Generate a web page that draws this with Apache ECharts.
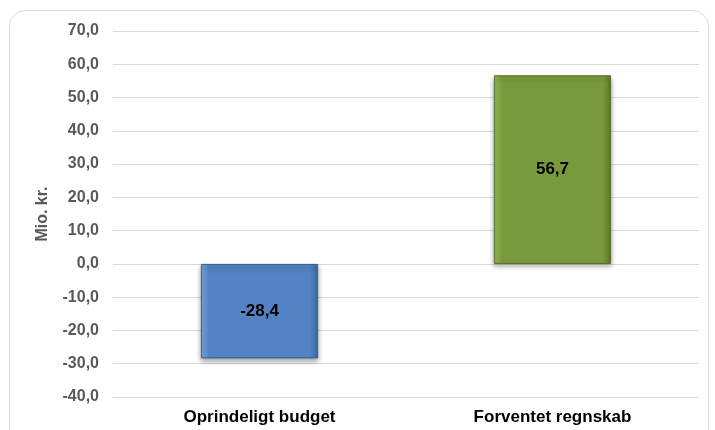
<!DOCTYPE html>
<html><head><meta charset="utf-8">
<script src="https://cdn.jsdelivr.net/npm/echarts@6/dist/echarts.min.js"></script>
<style>html,body{margin:0;padding:0;background:#fff}#c{width:715px;height:430px}</style>
</head><body><div id="c"></div>
<script>
const categories = ['Oprindeligt budget', 'Forventet regnskab'];
const values = [-28.4, 56.7];
const barColors = [['#7ba6dd', '#5383c3', '#3e6ca5'], ['#9bb955', '#799a3c', '#5f7a2c']];
const borderColors = ['#3a5f8f', '#56702a'];
const yMin = -40, yMax = 70, yStep = 10;

const chart = echarts.init(document.getElementById('c'));
const fmt = v => v.toFixed(1).replace('.', ',');
const FF = 'Liberation Sans, Arial, sans-serif';
chart.setOption({
  animation: false,
  graphic: [{
    type: 'rect', shape: {x: 9.5, y: 10.5, width: 699, height: 440, r: 16},
    style: {fill: 'none', stroke: '#d9d9d9', lineWidth: 1}, z: -1
  }],
  grid: {left: 113, right: 16, top: 31, bottom: 33, containLabel: false},
  xAxis: {
    type: 'category', data: categories,
    axisLine: {show: false}, axisTick: {show: false},
    axisLabel: {color: '#000', fontFamily: FF, fontWeight: 'bold', fontSize: 17, margin: 12}
  },
  yAxis: {
    type: 'value', min: yMin, max: yMax, interval: yStep,
    name: 'Mio. kr.', nameLocation: 'middle', nameGap: 62, nameRotate: 90,
    nameTextStyle: {color: '#595959', fontFamily: FF, fontWeight: 'bold', fontSize: 16},
    axisLine: {show: false}, axisTick: {show: false},
    axisLabel: {color: '#595959', fontFamily: FF, fontWeight: 'bold', fontSize: 16, margin: 14, formatter: fmt},
    splitLine: {lineStyle: {color: '#d9d9d9', width: 1}}
  },
  series: [{
    type: 'bar', barWidth: '40%',
    data: values.map((v, i) => ({
      value: v,
      itemStyle: {
        color: {type: 'linear', x: 0, y: 0, x2: 1, y2: 0, colorStops: [
          {offset: 0, color: barColors[i][0]}, {offset: 0.07, color: barColors[i][1]},
          {offset: 0.93, color: barColors[i][1]}, {offset: 1, color: barColors[i][2]}]},
        borderColor: borderColors[i], borderWidth: 1,
        shadowColor: 'rgba(0,0,0,0.35)', shadowBlur: 5, shadowOffsetY: 3
      }
    })),
    label: {show: true, position: 'inside', color: '#000', fontFamily: FF, fontWeight: 'bold', fontSize: 17, formatter: p => fmt(p.value)}
  }]
});
</script></body></html>
